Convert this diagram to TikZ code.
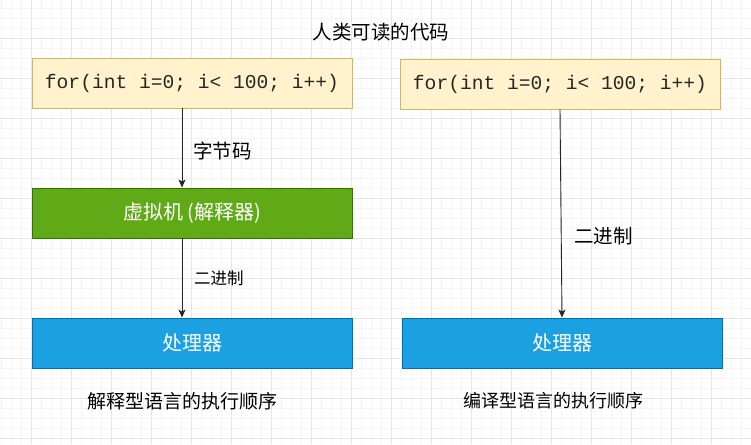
\documentclass[tikz,border=0pt]{standalone}
\usepackage{fontspec}
\setmainfont{Noto Sans CJK SC}
\newfontfamily\cjk{Noto Sans CJK SC}
\newfontfamily\codefont{Liberation Mono}
\usetikzlibrary{arrows.meta}
\definecolor{gridminor}{HTML}{F4F4F4}
\definecolor{gridmajor}{HTML}{E6E6E6}
\definecolor{codefill}{HTML}{FFF2CC}
\definecolor{codeline}{HTML}{D6B656}
\definecolor{vmfill}{HTML}{60A917}
\definecolor{vmline}{HTML}{2D7600}
\definecolor{cpufill}{HTML}{1BA1E2}
\definecolor{cpuline}{HTML}{006EAF}
\tikzset{
  codebox/.style={draw=codeline, fill=codefill, line width=0.9pt, minimum width=320pt, minimum height=50pt, inner sep=0pt, font=\codefont\fontsize{19.6}{22}\selectfont, text=black!85},
  vmbox/.style={draw=vmline, fill=vmfill, line width=0.9pt, minimum width=320pt, minimum height=50pt, inner sep=0pt, font=\cjk\fontsize{20}{22}\selectfont, text=white},
  cpubox/.style={draw=cpuline, fill=cpufill, line width=0.9pt, minimum width=320pt, minimum height=50pt, inner sep=0pt, font=\cjk\fontsize{20}{22}\selectfont, text=white},
  lbl/.style={font=\cjk\fontsize{19.5}{22}\selectfont, text=black, inner sep=0pt},
  smalllbl/.style={font=\cjk\fontsize{16.5}{20}\selectfont, text=black, inner sep=0pt},
  conn/.style={draw=black!85, line width=0.9pt, -{Stealth[length=8pt,width=7pt,inset=2pt]}}
}
\begin{document}
\begin{tikzpicture}[x=1pt,y=-1pt]
\useasboundingbox (0,0) rectangle (751,444);
\fill[white] (0,0) rectangle (751,444);
% minor grid
\foreach \gx in {1.5,11.5,...,751}{\draw[gridminor, line width=0.8pt] (\gx,0) -- (\gx,444);}
\foreach \gy in {8.5,18.5,...,444}{\draw[gridminor, line width=0.8pt] (0,\gy) -- (751,\gy);}
% major grid
\foreach \gx in {31.5,71.5,...,751}{\draw[gridmajor, line width=1pt] (\gx,0) -- (\gx,444);}
\foreach \gy in {38.5,78.5,...,444}{\draw[gridmajor, line width=1pt] (0,\gy) -- (751,\gy);}

\node[lbl] (title) at (381,32) {人类可读的代码};

\node[codebox] (code1) at (192,83) {for(int i=0; i< 100; i++)};
\node[codebox] (code2) at (560,84) {for(int i=0; i< 100; i++)};

\node[vmbox] (vm) at (192,213) {虚拟机\hspace{4pt}(解释器)};

\node[cpubox] (cpu1) at (192,343) {处理器};
\node[cpubox] (cpu2) at (562,343) {处理器};

\draw[conn] (code1.south -| 182,0) -- (vm.north -| 182,0);
\draw[conn] (vm.south -| 182,0) -- (cpu1.north -| 182,0);
\draw[conn] (code2.south) -- (cpu2.north);

\node[lbl, anchor=west] (l1) at (193,151) {字节码};
\node[smalllbl, anchor=west] (l2) at (194,278) {二进制};
\node[lbl, anchor=west] (l3) at (574,236) {二进制};

\node[lbl, font=\cjk\fontsize{19}{22}\selectfont] (b1) at (182.5,401) {解释型语言的执行顺序};
\node[lbl, font=\cjk\fontsize{18}{22}\selectfont] (b2) at (553.5,401) {编译型语言的执行顺序};
\end{tikzpicture}
\end{document}
